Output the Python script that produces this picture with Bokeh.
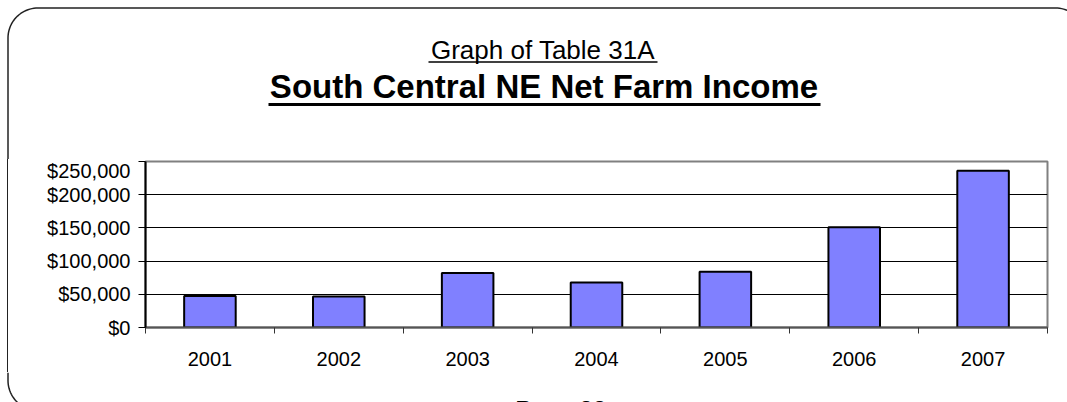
import numpy as np
from bokeh.plotting import figure
from bokeh.layouts import column, row
from bokeh.models import ColumnDataSource, Range1d, FixedTicker, NumeralTickFormatter
from bokeh.core.properties import value
from bokeh.embed import file_html
from bokeh.resources import INLINE

# ---- data ----
years = ["2001", "2002", "2003", "2004", "2005", "2006", "2007"]
net_farm_income = [47500, 46500, 82000, 67800, 84000, 151000, 236000]
y_ticks = [0, 50000, 100000, 150000, 200000, 250000]
subtitle = "Graph of Table 31A"
title = "South Central NE Net Farm Income"
page_text = "Page 33"

FONT = "Liberation Sans"
W, H = 1067, 402
HEAD_H = 159          # header strip height
FOOT_TOP = 372        # canvas y where footer starts
FL, FR, FT, FB = 145, 1047, 161, 327  # chart frame edges (canvas px)
FRAME_COL = "#222222"
R = 30
FX0, FY0, FX1, FY1 = 7.5, 7.5, 1085, 410   # rounded outer frame
EDGE_BG = ("linear-gradient(to right, white 6.75px, #222222 6.75px, "
           "#222222 8.25px, white 8.25px)")


def canvas_fig(w, h, y_off):
    f = figure(width=w, height=h, output_backend="svg", toolbar_location=None,
               x_range=Range1d(0, w), y_range=Range1d(y_off + h, y_off),
               x_axis_type=None, y_axis_type=None, min_border=0,
               outline_line_color=None, background_fill_color="white",
               border_fill_color="white")
    f.xgrid.visible = False
    f.ygrid.visible = False
    return f


def arc(cx, cy, a0, a1, n=24):
    a = np.radians(np.linspace(a0, a1, n))
    return list(cx + R * np.cos(a)), list(cy + R * np.sin(a))


# ---------- header ----------
head = canvas_fig(W, HEAD_H, 0)
ax1, ay1 = arc(FX0 + R, FY0 + R, 180, 270)
ax2, ay2 = arc(FX1 - R, FY0 + R, 270, 360)
head.line([FX0] + ax1 + ax2, [HEAD_H] + ay1 + ay2, line_color=FRAME_COL, line_width=1.5)
head.text(x=[542.5], y=[49.2], text=[subtitle], text_font=value(FONT), text_font_size="26px",
          text_align="center", text_baseline="middle", text_color="black")
head.segment(x0=[428], y0=[61.5], x1=[657], y1=[61.5], line_color="black", line_width=1.5)
head.text(x=[543.5], y=[86.2], text=[title], text_font=value(FONT), text_font_size="33px",
          text_font_style="bold", text_align="center", text_baseline="middle",
          text_color="black")
head.segment(x0=[268], y0=[104], x1=[820], y1=[104], line_color="black", line_width=3)

# ---------- main chart ----------
MID_H = FOOT_TOP - HEAD_H
xs = list(range(1, len(years) + 1))
src = ColumnDataSource(dict(x=xs, top=net_farm_income, year=years))

p = figure(width=W, height=MID_H, output_backend="svg", toolbar_location=None,
           x_range=Range1d(0.5, len(years) + 0.5), y_range=Range1d(0, 250000),
           min_border_left=FL, min_border_right=W - FR,
           min_border_top=FT - HEAD_H, min_border_bottom=FOOT_TOP - FB,
           background_fill_color="white", border_fill_color=None,
           styles={"background": EDGE_BG})

p.vbar(x="x", top="top", width=0.4, source=src, fill_color="#8080FF",
       line_color="black", line_width=2)

p.yaxis.ticker = FixedTicker(ticks=y_ticks)
p.yaxis.formatter = NumeralTickFormatter(format="$0,0")
p.yaxis.major_label_text_font = FONT
p.yaxis.major_label_text_font_size = "20px"
p.yaxis.major_label_text_color = "black"
p.yaxis.major_tick_out = 7
p.yaxis.major_tick_in = 0
p.yaxis.minor_tick_line_color = None
p.yaxis.axis_line_color = "black"
p.yaxis.axis_line_width = 2
p.yaxis.major_tick_line_color = "black"
p.yaxis.major_label_standoff = 8

p.xaxis.ticker = FixedTicker(ticks=xs, minor_ticks=[v - 0.5 for v in xs] + [len(xs) + 0.5])
p.xaxis.major_label_overrides = {i: y for i, y in zip(xs, years)}
p.xaxis.major_label_text_font = FONT
p.xaxis.major_label_text_font_size = "20px"
p.xaxis.major_label_text_color = "black"
p.xaxis.major_tick_line_color = None
p.xaxis.minor_tick_out = 6
p.xaxis.minor_tick_in = 0
p.xaxis.minor_tick_line_color = "#333333"
p.xaxis.minor_tick_line_width = 1
p.xaxis.axis_line_color = "#555555"
p.xaxis.axis_line_width = 2
p.xaxis.major_label_standoff = 18

p.xgrid.grid_line_color = None
p.ygrid.ticker = FixedTicker(ticks=y_ticks[1:-1])
p.ygrid.grid_line_color = "black"
p.ygrid.grid_line_width = 1
p.outline_line_color = "#808080"
p.outline_line_width = 2

# ---------- footer ----------
FOOT_H = H - FOOT_TOP
foot = canvas_fig(W, FOOT_H, FOOT_TOP)
bx, by = arc(FX0 + R, FY1 - R, 180, 90)
foot.line([FX0] + bx, [FOOT_TOP] + by, line_color=FRAME_COL, line_width=1.5)
foot.text(x=[515], y=[395], text=[page_text], text_font=value(FONT), text_font_size="24px",
          text_font_style="bold", text_align="left", text_baseline="top", text_color="black")

layout = column(row(head, spacing=0), p, row(foot, spacing=0), spacing=0)
open("out.html", "w").write(file_html(layout, INLINE))
